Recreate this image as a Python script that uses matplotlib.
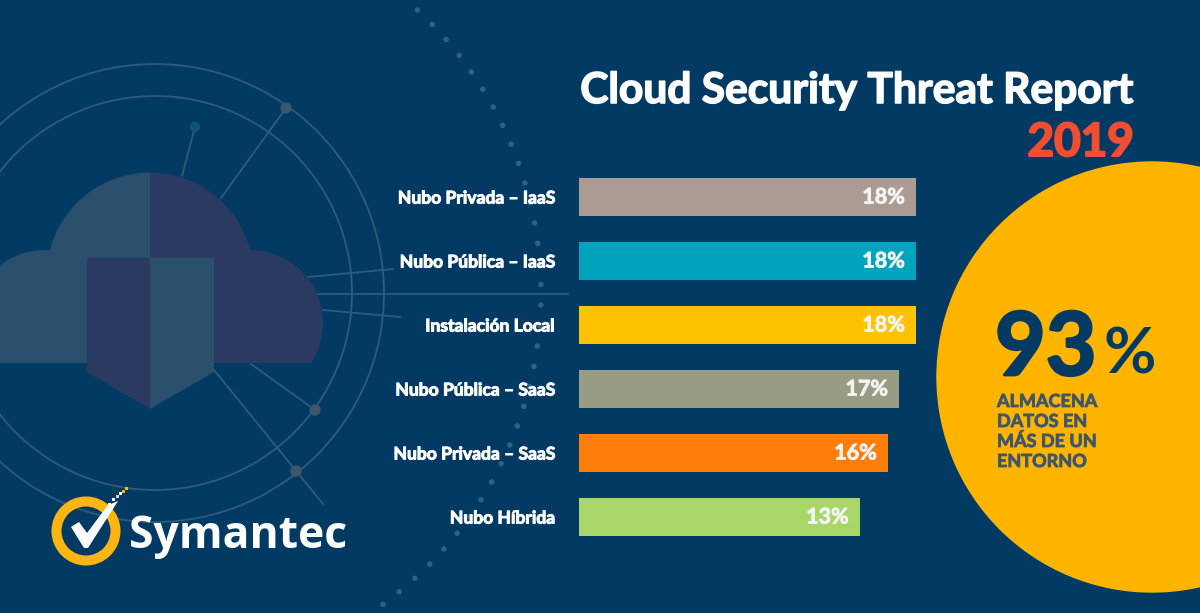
import numpy as np
import matplotlib.pyplot as plt
import matplotlib.patheffects as pe
from matplotlib.patches import Circle, Rectangle, Polygon

categories = ['Nubo Privada – IaaS', 'Nubo Pública – IaaS', 'Instalación Local',
              'Nubo Pública – SaaS', 'Nubo Privada – SaaS', 'Nubo Híbrida']
# bar lengths as drawn in the picture, they are not quite proportional to the printed %
bar_lengths = [18, 18, 18, 17.1, 16.5, 15]
value_labels = ['18%', '18%', '18%', '17%', '16%', '13%']
bar_colors = ['#ab9b92', '#00a5bd', '#ffc200', '#979c83', '#ff7d0b', '#a8d768']

bg = '#023a63'
ring = '#2f5b7f'
light = '#2a4f6d'
dark = '#2a3a60'

plt.rcParams['font.family'] = ['Lato', 'DejaVu Sans']


# the fonts come out thinner than the original so fatten them a bit
def heavy(w, col):
    return [pe.withStroke(linewidth=w, foreground=col)]


fig = plt.figure(figsize=(12, 6.13), dpi=100, facecolor=bg)

# background axes in pixel coords for the artwork
bgax = fig.add_axes([0, 0, 1, 1])
bgax.set_xlim(0, 1200)
bgax.set_ylim(613, 0)
bgax.axis('off')

# rings
for r in [197, 229]:
    bgax.add_patch(Circle((155, 293), r, fill=False, ec=ring, lw=1.3, zorder=1))

# big dotted circle
bgax.add_patch(Circle((155, 293), 386, fill=False, ec='#2f6184', lw=4,
                      linestyle=(0, (0.01, 3.7)), capstyle='round', zorder=1))

# spokes
spokes = [((182, 176), (195, 127)), ((221, 198), (286, 108)), ((308, 277), (393, 269)),
          ((318, 294), (568, 294)), ((323, 310), (400, 317)), ((251, 364), (315, 410)),
          ((214, 370), (323, 504))]
for a, b in spokes:
    bgax.plot([a[0], b[0]], [a[1], b[1]], color=ring, lw=1.3, zorder=1)
bgax.add_patch(Circle((195, 127), 4.5, color='#0b5672', zorder=2))
for c in [(286, 108), (315, 410), (296, 471)]:
    bgax.add_patch(Circle(c, 5, color='#3c566a', zorder=2))

# cloud, split down the middle
for col, x0, w in [(light, -10, 160), (dark, 150, 400)]:
    parts = [Circle((150, 276), 103.4), Circle((250, 323), 73), Circle((45, 323), 73),
             Rectangle((45, 260), 205, 103)]
    for p in parts:
        p.set_facecolor(col)
        p.set_edgecolor('none')
        p.set_zorder(3)
        bgax.add_patch(p)
        p.set_clip_path(Rectangle((x0, 0), w, 363, transform=bgax.transData))

# shield
bgax.add_patch(Polygon([(87, 258), (150, 258), (150, 409), (87, 372)], fc=dark, ec='none', zorder=4))
bgax.add_patch(Polygon([(150, 258), (214, 258), (214, 372), (150, 409)], fc=light, ec='none', zorder=4))

# logo
bgax.add_patch(Circle((86, 531), 29.5, fill=False, ec='#fdb511', lw=7.2, zorder=5))
bgax.add_patch(Polygon([(71, 527), (79, 522), (87, 533), (108, 505), (118, 501), (88, 548), (84, 548)],
                       fc='white', ec='none', zorder=6))
for x, y, c in [(108, 503, 'white'), (112, 498, 'white'), (116, 495, '#cfd8de'), (119, 492, 'white'),
                (122, 490, '#fdb511'), (125, 487, '#fdb511')]:
    bgax.add_patch(Rectangle((x, y), 3, 3, fc=c, ec='none', zorder=6))
bgax.text(129, 548, 'Symantec', color='white', fontsize=32, fontweight='bold',
          family='Open Sans', ha='left', va='baseline', zorder=6)

# title
bgax.text(1134, 103, 'Cloud Security Threat Report', color='white', fontsize=30.6,
          fontweight='bold', ha='right', va='baseline', zorder=6,
          path_effects=heavy(1.1, 'white'))
bgax.text(1134, 156, '2019', color='#f04e30', fontsize=33, fontweight='bold',
          ha='right', va='baseline', zorder=6, path_effects=heavy(1.5, '#f04e30'))

# yellow circle
bgax.add_patch(Circle((1152, 377), 215, color='#ffb500', zorder=3))
bgax.text(995, 375, '93', color=bg, fontsize=63, fontweight='bold',
          ha='left', va='baseline', zorder=6, path_effects=heavy(2, bg))
bgax.text(1104, 373, '%', color=bg, fontsize=46, fontweight='bold', ha='left', va='baseline', zorder=6)
for y, line in zip([407, 427, 447, 467], ['ALMACENA', 'DATOS EN', 'MÁS DE UN', 'ENTORNO']):
    bgax.text(997, y, line, color='#3f566b', fontsize=13, fontweight='bold',
              ha='left', va='baseline', zorder=6, path_effects=heavy(0.6, '#3f566b'))

# bars
ax = fig.add_axes([579 / 1200, (613 - 549) / 613, 337 / 1200, 384 / 613])
ax.patch.set_alpha(0)
y = np.arange(len(categories))
ax.barh(y, bar_lengths, height=0.6, color=bar_colors)
ax.set_xlim(0, 18)
ax.set_ylim(5.5, -0.5)
ax.set_yticks(y)
ax.set_yticklabels(categories, color='white', fontsize=12.6, fontweight='bold',
                   path_effects=heavy(0.7, 'white'))
ax.tick_params(axis='y', length=0, pad=17)
ax.set_xticks([])
for s in ax.spines.values():
    s.set_visible(False)

for i, v in enumerate(bar_lengths):
    ax.annotate(value_labels[i], (v, i), xytext=(-8, 0), textcoords='offset points',
                ha='right', va='center', color='#f4f4f4', fontsize=15.5, fontweight='bold',
                path_effects=heavy(0.6, '#f4f4f4'))

fig.savefig('out.png', dpi=100, facecolor=bg)
